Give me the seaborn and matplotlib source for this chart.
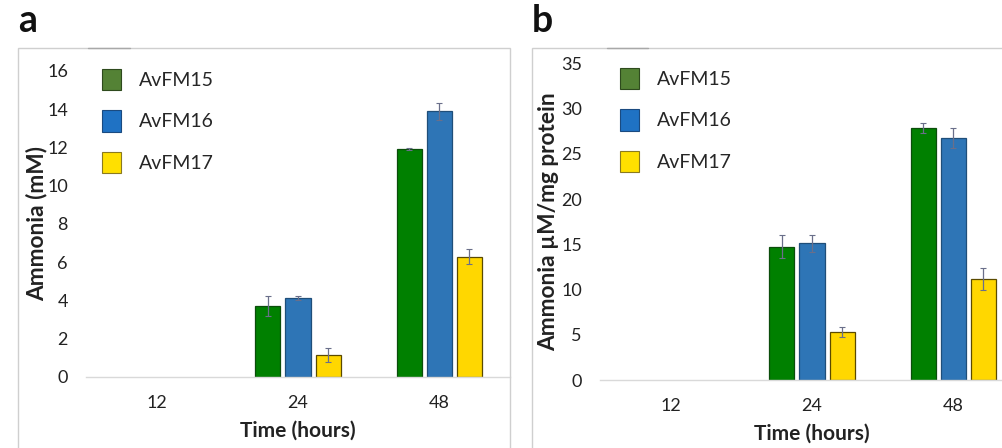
import numpy as np
import pandas as pd
import matplotlib
matplotlib.use("Agg")
import matplotlib.pyplot as plt
from matplotlib.patches import Patch, Rectangle
from matplotlib.lines import Line2D
import seaborn as sns

# Sampling times and strains
times = ["12", "24", "48"]
strains = ["AvFM15", "AvFM16", "AvFM17"]

# Panel a: ammonia concentration (mM), mean and error per strain
mM_15 = [0.0, 3.70, 11.94]
mM_16 = [0.0, 4.10, 13.90]
mM_17 = [0.0, 1.14, 6.28]
mM_15_err = [0.0, 0.50, 0.05]
mM_16_err = [0.0, 0.10, 0.45]
mM_17_err = [0.0, 0.35, 0.40]

# Panel b: ammonia normalised to protein (uM/mg protein)
pr_15 = [0.0, 14.73, 27.88]
pr_16 = [0.0, 15.10, 26.74]
pr_17 = [0.0, 5.30, 11.16]
pr_15_err = [0.0, 1.25, 0.55]
pr_16_err = [0.0, 0.90, 1.10]
pr_17_err = [0.0, 0.60, 1.20]

a_ticks = [0, 2, 4, 6, 8, 10, 12, 14, 16]
b_ticks = [0, 5, 10, 15, 20, 25, 30, 35]

bar_colors = ["#008000", "#2E75B6", "#FFD700"]
edge_colors = ["#0B4D0B", "#1F4E79", "#5A4A00"]
legend_colors = ["#548235", "#1F72C4", "#FFE000"]
legend_edges = ["#2E4A1D", "#1A4A80", "#8A7A20"]

sns.set_style("white")
plt.rcParams["font.family"] = ["Lato", "DejaVu Sans"]

W, H = 1002, 448
fig = plt.figure(figsize=(W / 100, H / 100), dpi=100)


def frac_box(x0, y_top, x1, y_bottom):
    return [x0 / W, 1 - y_bottom / H, (x1 - x0) / W, (y_bottom - y_top) / H]


def long_table(v15, v16, v17):
    rows = []
    for s, vals in zip(strains, [v15, v16, v17]):
        for t, v in zip(times, vals):
            rows.append({"time": t, "strain": s, "value": v})
    return pd.DataFrame(rows)


def draw_panel(ax, df, errs, ticks, ylabel, ypad, legend_xy):
    sns.barplot(data=df, x="time", y="value", hue="strain", order=times,
                hue_order=strains, palette=bar_colors, width=0.64, gap=0.17,
                errorbar=None, legend=False, ax=ax, saturation=1)
    for cont, ec, err in zip(ax.containers, edge_colors, errs):
        for bar, e in zip(cont, err):
            h = bar.get_height()
            if h == 0:
                bar.set_linewidth(0)
                continue
            bar.set_edgecolor(ec)
            bar.set_linewidth(0.9)
            xc = bar.get_x() + bar.get_width() / 2
            ax.errorbar(xc, h, yerr=e, fmt="none", ecolor="#6A6F8A",
                        elinewidth=0.9, capsize=2, capthick=0.8, zorder=5)
    ax.set_ylim(ticks[0], ticks[-1])
    ax.set_xlim(-0.5, len(times) - 0.5)
    ax.set_yticks(ticks)
    ax.tick_params(axis="y", length=0, pad=13, labelsize=13, labelcolor="#222222")
    ax.tick_params(axis="x", which="major", length=0, pad=13, labelsize=13,
                   labelcolor="#222222")
    ax.set_xticks([-0.5, 0.5, 1.5, 2.5], minor=True)
    ax.tick_params(axis="x", which="minor", length=4, color="#D9D9D9", width=0.8)
    for side in ["left", "right", "top"]:
        ax.spines[side].set_visible(False)
    ax.spines["bottom"].set_color("#D9D9D9")
    ax.spines["bottom"].set_linewidth(1.0)
    ax.set_xlabel("Time (hours)", fontsize=15, fontweight="bold", labelpad=7,
                  color="#222222")
    ax.set_ylabel(ylabel, fontsize=16.3, fontweight="bold", labelpad=ypad,
                  color="#222222")
    handles = [Patch(facecolor=fc, edgecolor=ec, linewidth=0.8, label=s)
               for fc, ec, s in zip(legend_colors, legend_edges, strains)]
    lx, ly = legend_xy
    ax.legend(handles=handles, loc="upper left",
              bbox_to_anchor=(lx / W, 1 - ly / H), bbox_transform=fig.transFigure,
              frameon=False, fontsize=14, handlelength=1.0, handleheight=1.3,
              handletextpad=0.9, labelspacing=1.05, borderaxespad=0.0)


ax_a = fig.add_axes(frac_box(86, 71, 510, 376.7))
draw_panel(ax_a, long_table(mM_15, mM_16, mM_17),
           [mM_15_err, mM_16_err, mM_17_err], a_ticks, "Ammonia (mM)",
           -0.5, (94, 61))

ax_b = fig.add_axes(frac_box(600, 63.3, 1024, 380))
draw_panel(ax_b, long_table(pr_15, pr_16, pr_17),
           [pr_15_err, pr_16_err, pr_17_err], b_ticks, "Ammonia µM/mg protein",
           1.5, (612, 60))

# Panel frames
for x0, x1 in [(18, 510), (532, 1010)]:
    fig.add_artist(Rectangle((x0 / W, -0.05), (x1 - x0) / W, 1.05 - 48 / H,
                             transform=fig.transFigure, fill=False,
                             edgecolor="#CFCFCF", linewidth=1.0))
for x0, x1 in [(88, 130), (607, 648)]:
    fig.add_artist(Line2D([x0 / W, x1 / W], [1 - 48 / H, 1 - 48 / H],
                          transform=fig.transFigure, color="#A8A8A8",
                          linewidth=1.0))

# Panel letters
fig.text(18 / W, 1 - 32 / H, "a", fontsize=27, fontweight="bold",
         va="baseline", ha="left", color="#111111")
fig.text(532 / W, 1 - 32 / H, "b", fontsize=27, fontweight="bold",
         va="baseline", ha="left", color="#111111")

fig.savefig("out.png", dpi=100)
